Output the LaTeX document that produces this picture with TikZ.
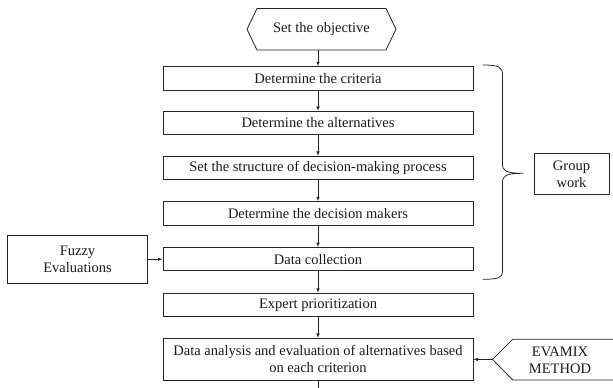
\documentclass[tikz,border=0pt]{standalone}
\usepackage{fontspec}
\setmainfont{Liberation Serif}
\usetikzlibrary{arrows.meta}
\begin{document}
\begin{tikzpicture}[x=1bp,y=-1bp, line width=0.8bp, draw=black!85,
  every node/.style={font=\fontsize{14.5bp}{17bp}\selectfont, align=center, inner sep=0pt, text=black!90},
  stepbox/.style={draw, minimum width=310bp, minimum height=23.3bp},
  sidebox/.style={draw},
  arr/.style={-{Latex[length=4.5bp,width=3.5bp]}},
  ]
\useasboundingbox (0,0) rectangle (613,387);
% objective (hexagon)
\node[minimum width=149bp, minimum height=41.5bp] (obj) at (321.5,29.2) {Set the objective};
\draw (247,29.2) -- (257,8.5) -- (386,8.5) -- (396,29.2) -- (386,50) -- (257,50) -- cycle;
% main steps
\node[stepbox] (s1) at (318,78.3) {Determine the criteria};
\node[stepbox] (s2) at (318,123) {Determine the alternatives};
\node[stepbox] (s3) at (318,168) {Set the structure of decision-making process};
\node[stepbox] (s4) at (318,213.3) {Determine the decision makers};
\node[stepbox] (s5) at (318,259.2) {Data collection};
\node[stepbox] (s6) at (318,305) {Expert prioritization};
\node[stepbox, minimum height=41.7bp] (s7) at (318,359.2) {Data analysis and evaluation of alternatives based\\on each criterion};
\coordinate (bot) at (318,392);
% connectors
\draw[arr] (obj.south -| s1.north) -- (s1.north);
\draw[arr] (s1) -- (s2);
\draw[arr] (s2) -- (s3);
\draw[arr] (s3) -- (s4);
\draw[arr] (s4) -- (s5);
\draw[arr] (s5) -- (s6);
\draw[arr] (s6) -- (s7);
\draw (s7.south) -- (bot);
% fuzzy evaluations
\node[sidebox, minimum width=140.4bp, minimum height=48bp] (fuzzy) at (77.5,259.2) {Fuzzy\\Evaluations};
\draw[arr] (fuzzy.east) -- (s5.west);
% EVAMIX
\node[minimum height=41bp] (evamix) at (560,360.5) {EVAMIX\\METHOD};
\coordinate (evpt) at (492.5,359.4);
\draw (625,339.2) -- (512.7,339.2) -- (evpt) -- (512.7,380) -- (625,380);
\draw[arr] (evpt) -- (s7.east |- evpt);
% brace and group work
\draw (482.5,65) .. controls (499,65) and (502.5,67) .. (502.5,75)
  -- (502.5,164) .. controls (502.5,171) and (506,173.3) .. (523.3,173.3)
  .. controls (506,173.3) and (502.5,175.6) .. (502.5,182.6)
  -- (502.5,271) .. controls (502.5,277.5) and (499,279.3) .. (482.5,279.3);
\coordinate (bracetip) at (523.3,173.3);
\node[sidebox, minimum width=75bp, minimum height=41.7bp] (group) at (571.5,174) {Group\\work};
\end{tikzpicture}
\end{document}
